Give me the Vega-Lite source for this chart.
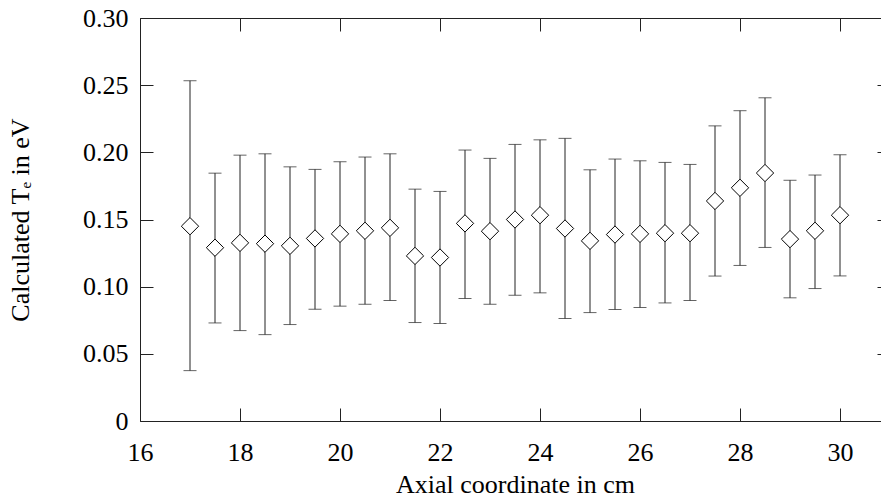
{
  "$schema": "https://vega.github.io/schema/vega-lite/v6.json",
  "width": 750,
  "height": 403,
  "autosize": {"type": "none"},
  "padding": {"left": 140, "top": 18, "right": 0, "bottom": 78},
  "background": "white",
  "config": {
    "view": {"stroke": null},
    "axis": {
      "grid": false,
      "domainColor": "#222",
      "domainWidth": 1,
      "tickColor": "#222",
      "tickWidth": 1,
      "tickSize": -13,
      "labelFlush": false,
      "labelOverlap": false,
      "labelFont": "Liberation Serif",
      "labelFontSize": 26,
      "labelColor": "black",
      "titleFont": "Liberation Serif",
      "titleFontSize": 26,
      "titleFontWeight": "normal",
      "titleColor": "black"
    }
  },
  "data": {
    "values": [
      {"x": 17, "y": 0.145, "lo": 0.0375, "hi": 0.2533},
      {"x": 17.5, "y": 0.129, "lo": 0.073, "hi": 0.1845},
      {"x": 18, "y": 0.1326, "lo": 0.0673, "hi": 0.1979},
      {"x": 18.5, "y": 0.132, "lo": 0.0643, "hi": 0.1989},
      {"x": 19, "y": 0.1304, "lo": 0.0718, "hi": 0.1892},
      {"x": 19.5, "y": 0.1359, "lo": 0.0832, "hi": 0.1873},
      {"x": 20, "y": 0.1393, "lo": 0.0855, "hi": 0.193},
      {"x": 20.5, "y": 0.1416, "lo": 0.0869, "hi": 0.1965},
      {"x": 21, "y": 0.1438, "lo": 0.0897, "hi": 0.1989},
      {"x": 21.5, "y": 0.1229, "lo": 0.0733, "hi": 0.1726},
      {"x": 22, "y": 0.1217, "lo": 0.0726, "hi": 0.1709},
      {"x": 22.5, "y": 0.1471, "lo": 0.0912, "hi": 0.2017},
      {"x": 23, "y": 0.1413, "lo": 0.0869, "hi": 0.1955},
      {"x": 23.5, "y": 0.15, "lo": 0.0936, "hi": 0.2059},
      {"x": 24, "y": 0.1532, "lo": 0.0954, "hi": 0.2093},
      {"x": 24.5, "y": 0.1433, "lo": 0.0763, "hi": 0.2104},
      {"x": 25, "y": 0.1341, "lo": 0.0807, "hi": 0.187},
      {"x": 25.5, "y": 0.1388, "lo": 0.083, "hi": 0.195},
      {"x": 26, "y": 0.1393, "lo": 0.0845, "hi": 0.1937},
      {"x": 26.5, "y": 0.1398, "lo": 0.0879, "hi": 0.1925},
      {"x": 27, "y": 0.1398, "lo": 0.0897, "hi": 0.191},
      {"x": 27.5, "y": 0.1638, "lo": 0.1079, "hi": 0.2197},
      {"x": 28, "y": 0.1736, "lo": 0.1158, "hi": 0.231},
      {"x": 28.5, "y": 0.1846, "lo": 0.1292, "hi": 0.2406},
      {"x": 29, "y": 0.1354, "lo": 0.0917, "hi": 0.1792},
      {"x": 29.5, "y": 0.1416, "lo": 0.0986, "hi": 0.1831},
      {"x": 30, "y": 0.1532, "lo": 0.108, "hi": 0.1982}
    ]
  },
  "resolve": {"axis": {"x": "independent", "y": "independent"}},
  "layer": [
    {
      "mark": {"type": "rule", "color": "#222", "strokeWidth": 1},
      "encoding": {
        "x": {
          "field": "x", "type": "quantitative",
          "scale": {"domain": [16, 31], "nice": false, "zero": false},
          "axis": {
            "orient": "bottom",
            "title": "Axial coordinate in cm",
            "values": [16, 18, 20, 22, 24, 26, 28, 30],
            "labelPadding": 31,
            "titlePadding": 6
          }
        },
        "y": {
          "field": "lo", "type": "quantitative",
          "scale": {"domain": [0, 0.3], "nice": false},
          "axis": {
            "orient": "left",
            "title": "Calculated Tₑ  in eV",
            "values": [0, 0.05, 0.1, 0.15, 0.2, 0.25, 0.3],
            "labelExpr": "datum.value == 0 ? '0' : format(datum.value, '.2f')",
            "labelPadding": 25,
            "titlePadding": 49
          }
        },
        "y2": {"field": "hi"}
      }
    },
    {
      "mark": {"type": "tick", "orient": "horizontal", "size": 13, "thickness": 1, "color": "#222"},
      "encoding": {
        "x": {
          "field": "x", "type": "quantitative",
          "scale": {"domain": [16, 31], "nice": false, "zero": false},
          "axis": {"orient": "top", "title": null, "labels": false, "values": [16, 18, 20, 22, 24, 26, 28, 30]}
        },
        "y": {
          "field": "lo", "type": "quantitative",
          "scale": {"domain": [0, 0.3], "nice": false},
          "axis": {"orient": "right", "title": null, "labels": false, "values": [0, 0.05, 0.1, 0.15, 0.2, 0.25, 0.3]}
        }
      }
    },
    {
      "mark": {"type": "tick", "orient": "horizontal", "size": 13, "thickness": 1, "color": "#222"},
      "encoding": {
        "x": {"field": "x", "type": "quantitative", "scale": {"domain": [16, 31], "nice": false, "zero": false}, "axis": null},
        "y": {"field": "hi", "type": "quantitative", "scale": {"domain": [0, 0.3], "nice": false}, "axis": null}
      }
    },
    {
      "mark": {"type": "point", "shape": "diamond", "size": 300, "filled": false, "fill": "white", "fillOpacity": 1, "stroke": "black", "strokeWidth": 1, "opacity": 1},
      "encoding": {
        "x": {"field": "x", "type": "quantitative", "scale": {"domain": [16, 31], "nice": false, "zero": false}, "axis": null},
        "y": {"field": "y", "type": "quantitative", "scale": {"domain": [0, 0.3], "nice": false}, "axis": null}
      }
    }
  ]
}
